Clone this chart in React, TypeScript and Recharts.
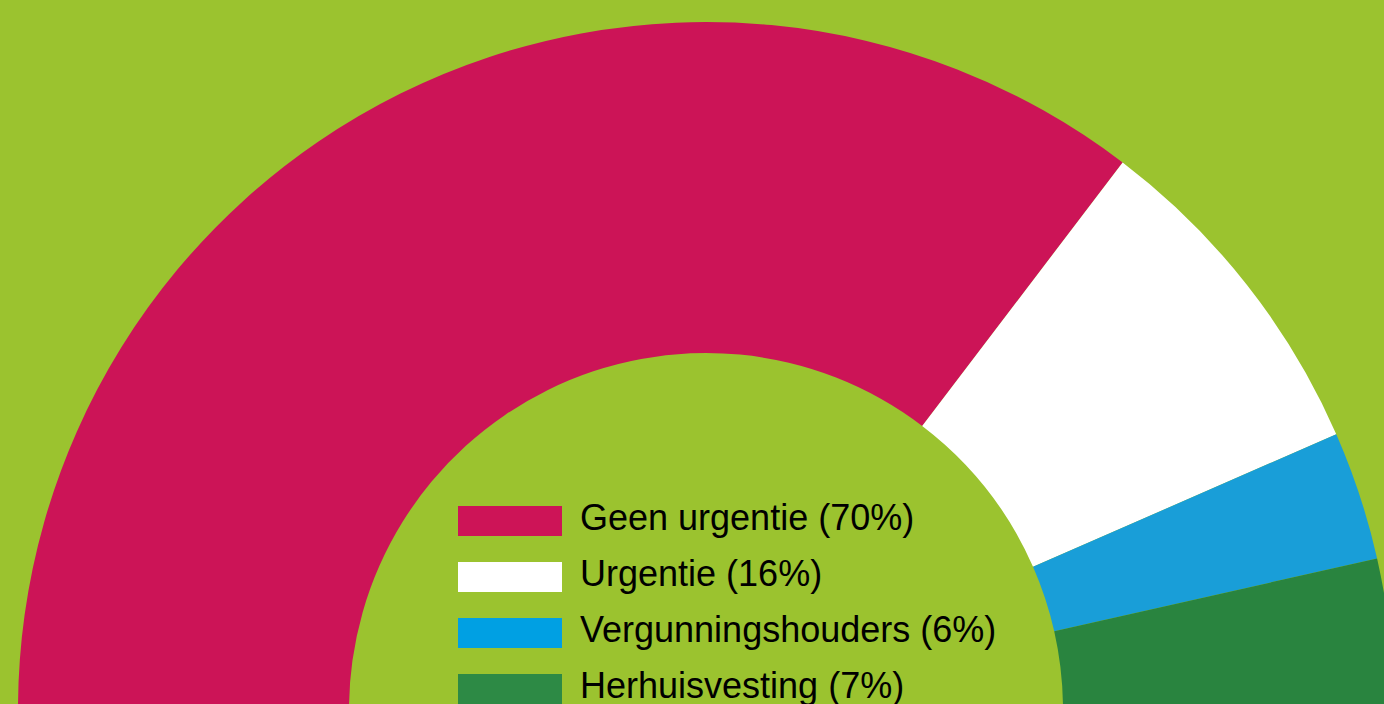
import { Cell, Legend, Pie, PieChart } from "recharts";

const CATEGORIES = ["Geen urgentie", "Urgentie", "Vergunningshouders", "Herhuisvesting"];
const SHARES = [70, 16, 6, 7];
const SLICE_COLORS = ["#cc1457", "#ffffff", "#199ed8", "#29843f"];
const SWATCH_COLORS = ["#cd1457", "#ffffff", "#00a0e3", "#2d8a45"];

const data = CATEGORIES.map((name, i) => ({ name, value: SHARES[i] }));

function LegendList({ payload }: { payload?: any[] }) {
  // keep the order of the data, not the sorted legend order
  const items = [...(payload ?? [])].sort(
    (a, b) => CATEGORIES.indexOf(a.value) - CATEGORIES.indexOf(b.value)
  );
  return (
    <ul style={{ listStyle: "none", margin: 0, padding: 0 }}>
      {items.map((entry) => {
        const i = CATEGORIES.indexOf(entry.value);
        return (
          <li
            key={entry.value}
            style={{ display: "flex", alignItems: "center", height: 30, marginBottom: 26 }}
          >
            <span
              style={{ display: "inline-block", width: 104, height: 30, backgroundColor: SWATCH_COLORS[i] }}
            />
            <span
              style={{
                position: "relative",
                top: -3,
                marginLeft: 18,
                fontFamily: "'Liberation Sans', Arial, sans-serif",
                fontSize: 36,
                color: "#000",
                whiteSpace: "nowrap",
                lineHeight: "30px",
              }}
            >
              {entry.value} ({SHARES[i]}%)
            </span>
          </li>
        );
      })}
    </ul>
  );
}

export default function App() {
  return (
    <div
      style={{
        position: "absolute",
        top: 0,
        left: 0,
        width: 1384,
        height: 704,
        overflow: "hidden",
        background: "#9bc32f",
      }}
    >
      <PieChart width={1384} height={704} margin={{ top: 0, right: 0, bottom: 0, left: 0 }}>
        <Pie
          data={data}
          dataKey="value"
          nameKey="name"
          cx={706}
          cy={710}
          innerRadius={357}
          outerRadius={688}
          startAngle={180}
          endAngle={0}
          stroke="none"
          isAnimationActive={false}
        >
          {data.map((d, i) => (
            <Cell key={d.name} fill={SLICE_COLORS[i]} />
          ))}
        </Pie>
        <Legend
          layout="vertical"
          align="center"
          verticalAlign="middle"
          content={(props: any) => <LegendList payload={props.payload} />}
          wrapperStyle={{ left: 458, top: 506, width: "auto" }}
        />
      </PieChart>
    </div>
  );
}
